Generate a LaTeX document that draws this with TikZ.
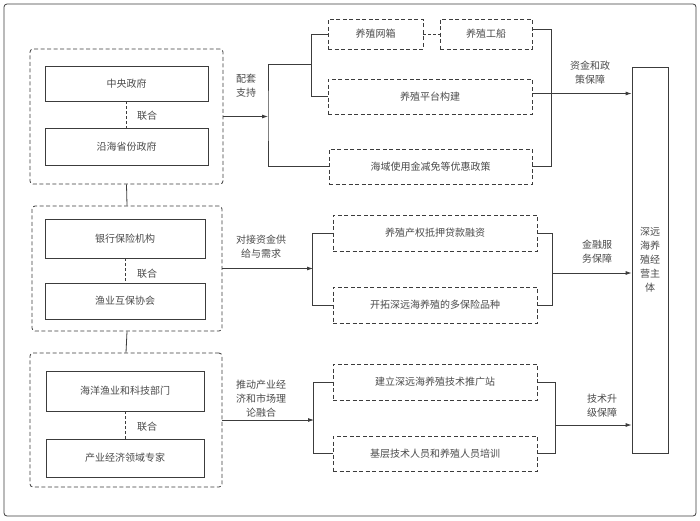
\documentclass[tikz,border=0pt]{standalone}
\usepackage{fontspec}
\newfontfamily\cjk{Noto Sans CJK SC}
\usetikzlibrary{arrows.meta}
\definecolor{linec}{HTML}{3C3C3C}
\definecolor{textc}{HTML}{4A4A4A}
\begin{document}
\begin{tikzpicture}[x=1pt,y=-1pt,
  every node/.style={font=\cjk\fontsize{10}{14}\selectfont, text=textc},
  ln/.style={draw=linec, line width=0.8pt},
  solidbox/.style={ln, rectangle, inner sep=0},
  dbox/.style={ln, dash pattern=on 4pt off 2.5pt, inner sep=0},
  grp/.style={ln, dash pattern=on 4pt off 2.5pt, rounded corners=3pt, inner sep=0},
  dln/.style={ln, dash pattern=on 3pt off 2pt},
  arr/.style={ln, -{Latex[length=6pt,width=4pt]}},
  lab/.style={align=center, inner sep=0},
]
\useasboundingbox (0,0) rectangle (700,520);
\draw[ln, rounded corners=3pt] (4,4) rectangle (696,516);

% groups
\node[grp, minimum width=193pt, minimum height=135pt] (g1) at (126.5,116.5) {};
\node[grp, minimum width=190pt, minimum height=125pt] (g2) at (127,268.5) {};
\node[grp, minimum width=192pt, minimum height=134pt] (g3) at (126,420) {};

\node[solidbox, minimum width=163pt, minimum height=35pt] (zy) at (126.5,83.5) {中央政府};
\node[solidbox, minimum width=163pt, minimum height=37pt] (yh) at (126.5,146.5) {沿海省份政府};
\node[solidbox, minimum width=160pt, minimum height=39pt] (yb) at (125,238.5) {银行保险机构};
\node[solidbox, minimum width=160pt, minimum height=36pt] (yy) at (125,301) {渔业互保协会};
\node[solidbox, minimum width=158pt, minimum height=40pt] (hy2) at (125,391) {海洋渔业和科技部门};
\node[solidbox, minimum width=158pt, minimum height=38pt] (cy) at (125,458) {产业经济领域专家};

\draw[dln] (zy) -- (yh);
\draw[dln] (yb) -- (yy);
\draw[dln] (hy2) -- (cy);
\node[lab] (lh1) at (147,116) {联合};
\node[lab] (lh2) at (147,274) {联合};
\node[lab] (lh3) at (147,427) {联合};

\draw[ln] (g1.south) -- (g2.north);
\draw[ln] (g2.south) -- (g3.north);

% right-side boxes
\node[dbox, minimum width=95pt, minimum height=30pt] (wx) at (375.5,34) {养殖网箱};
\node[dbox, minimum width=92pt, minimum height=30pt] (gc) at (486,34) {养殖工船};
\node[dbox, minimum width=204pt, minimum height=35pt] (pt) at (430,96.5) {养殖平台构建};
\node[dbox, minimum width=203pt, minimum height=35pt] (hy) at (430.5,166.5) {海域使用金减免等优惠政策};
\draw[dln] (wx) -- (gc);

\node[dbox, minimum width=204pt, minimum height=36pt] (cq) at (435,233) {养殖产权抵押贷款融资};
\node[dbox, minimum width=204pt, minimum height=36pt] (bx) at (435,305) {开拓深远海养殖的多保险品种};

\node[dbox, minimum width=204pt, minimum height=36pt] (tg) at (435,382) {建立深远海养殖技术推广站};
\node[dbox, minimum width=204pt, minimum height=35pt] (px) at (435,453.5) {基层技术人员和养殖人员培训};

\node[solidbox, minimum width=36pt, minimum height=386pt, align=center] (main) at (650,260) {深远\\海养\\殖经\\营主\\体};

% group 1 connectors
\coordinate (b1) at (268,116.5);
\draw[arr] (g1.east) -- (b1);
\coordinate (b1t) at (268,64);
\draw[ln] (b1t) -- (b1) |- (hy.west);
\draw[ln] (b1t) -- (312,64);
\draw[ln] (wx.west) -- ++(-16,0) |- (pt.west);
\draw[ln] ([yshift=5pt]gc.east) -- ++(19,0) |- (hy.east);
\coordinate (pa) at ([yshift=3pt]pt.east);
\draw[arr] (pa) -- (pa -| main.west);
\node[lab] (l1) at (246,86) {配套\\支持};
\node[lab] (l2) at (590,73) {资金和政\\策保障};

% group 2 connectors
\coordinate (b2) at (313,268.5);
\draw[arr] (g2.east) -- (b2);
\draw[ln] (cq.west) -- ++(-20,0) |- (bx.west);
\draw[ln] (cq.east) -- ++(15,0) |- (bx.east);
\coordinate (r2) at (552,273);
\draw[arr] (r2) -- (r2 -| main.west);
\node[lab] (l3) at (261,247) {对接资金供\\给与需求};
\node[lab] (l4) at (597,252) {金融服\\务保障};

% group 3 connectors
\coordinate (b3) at (314,420);
\draw[arr] (g3.east) -- (b3);
\draw[ln] (tg.west) -- ++(-19,0) |- (px.west);
\draw[ln] (tg.east) -- ++(18,0) |- (px.east);
\coordinate (r3) at (555,425);
\draw[arr] (r3) -- (r3 -| main.west);
\node[lab] (l5) at (261,399) {推动产业经\\济和市场理\\论融合};
\node[lab] (l6) at (602,406) {技术升\\级保障};
\end{tikzpicture}
\end{document}
